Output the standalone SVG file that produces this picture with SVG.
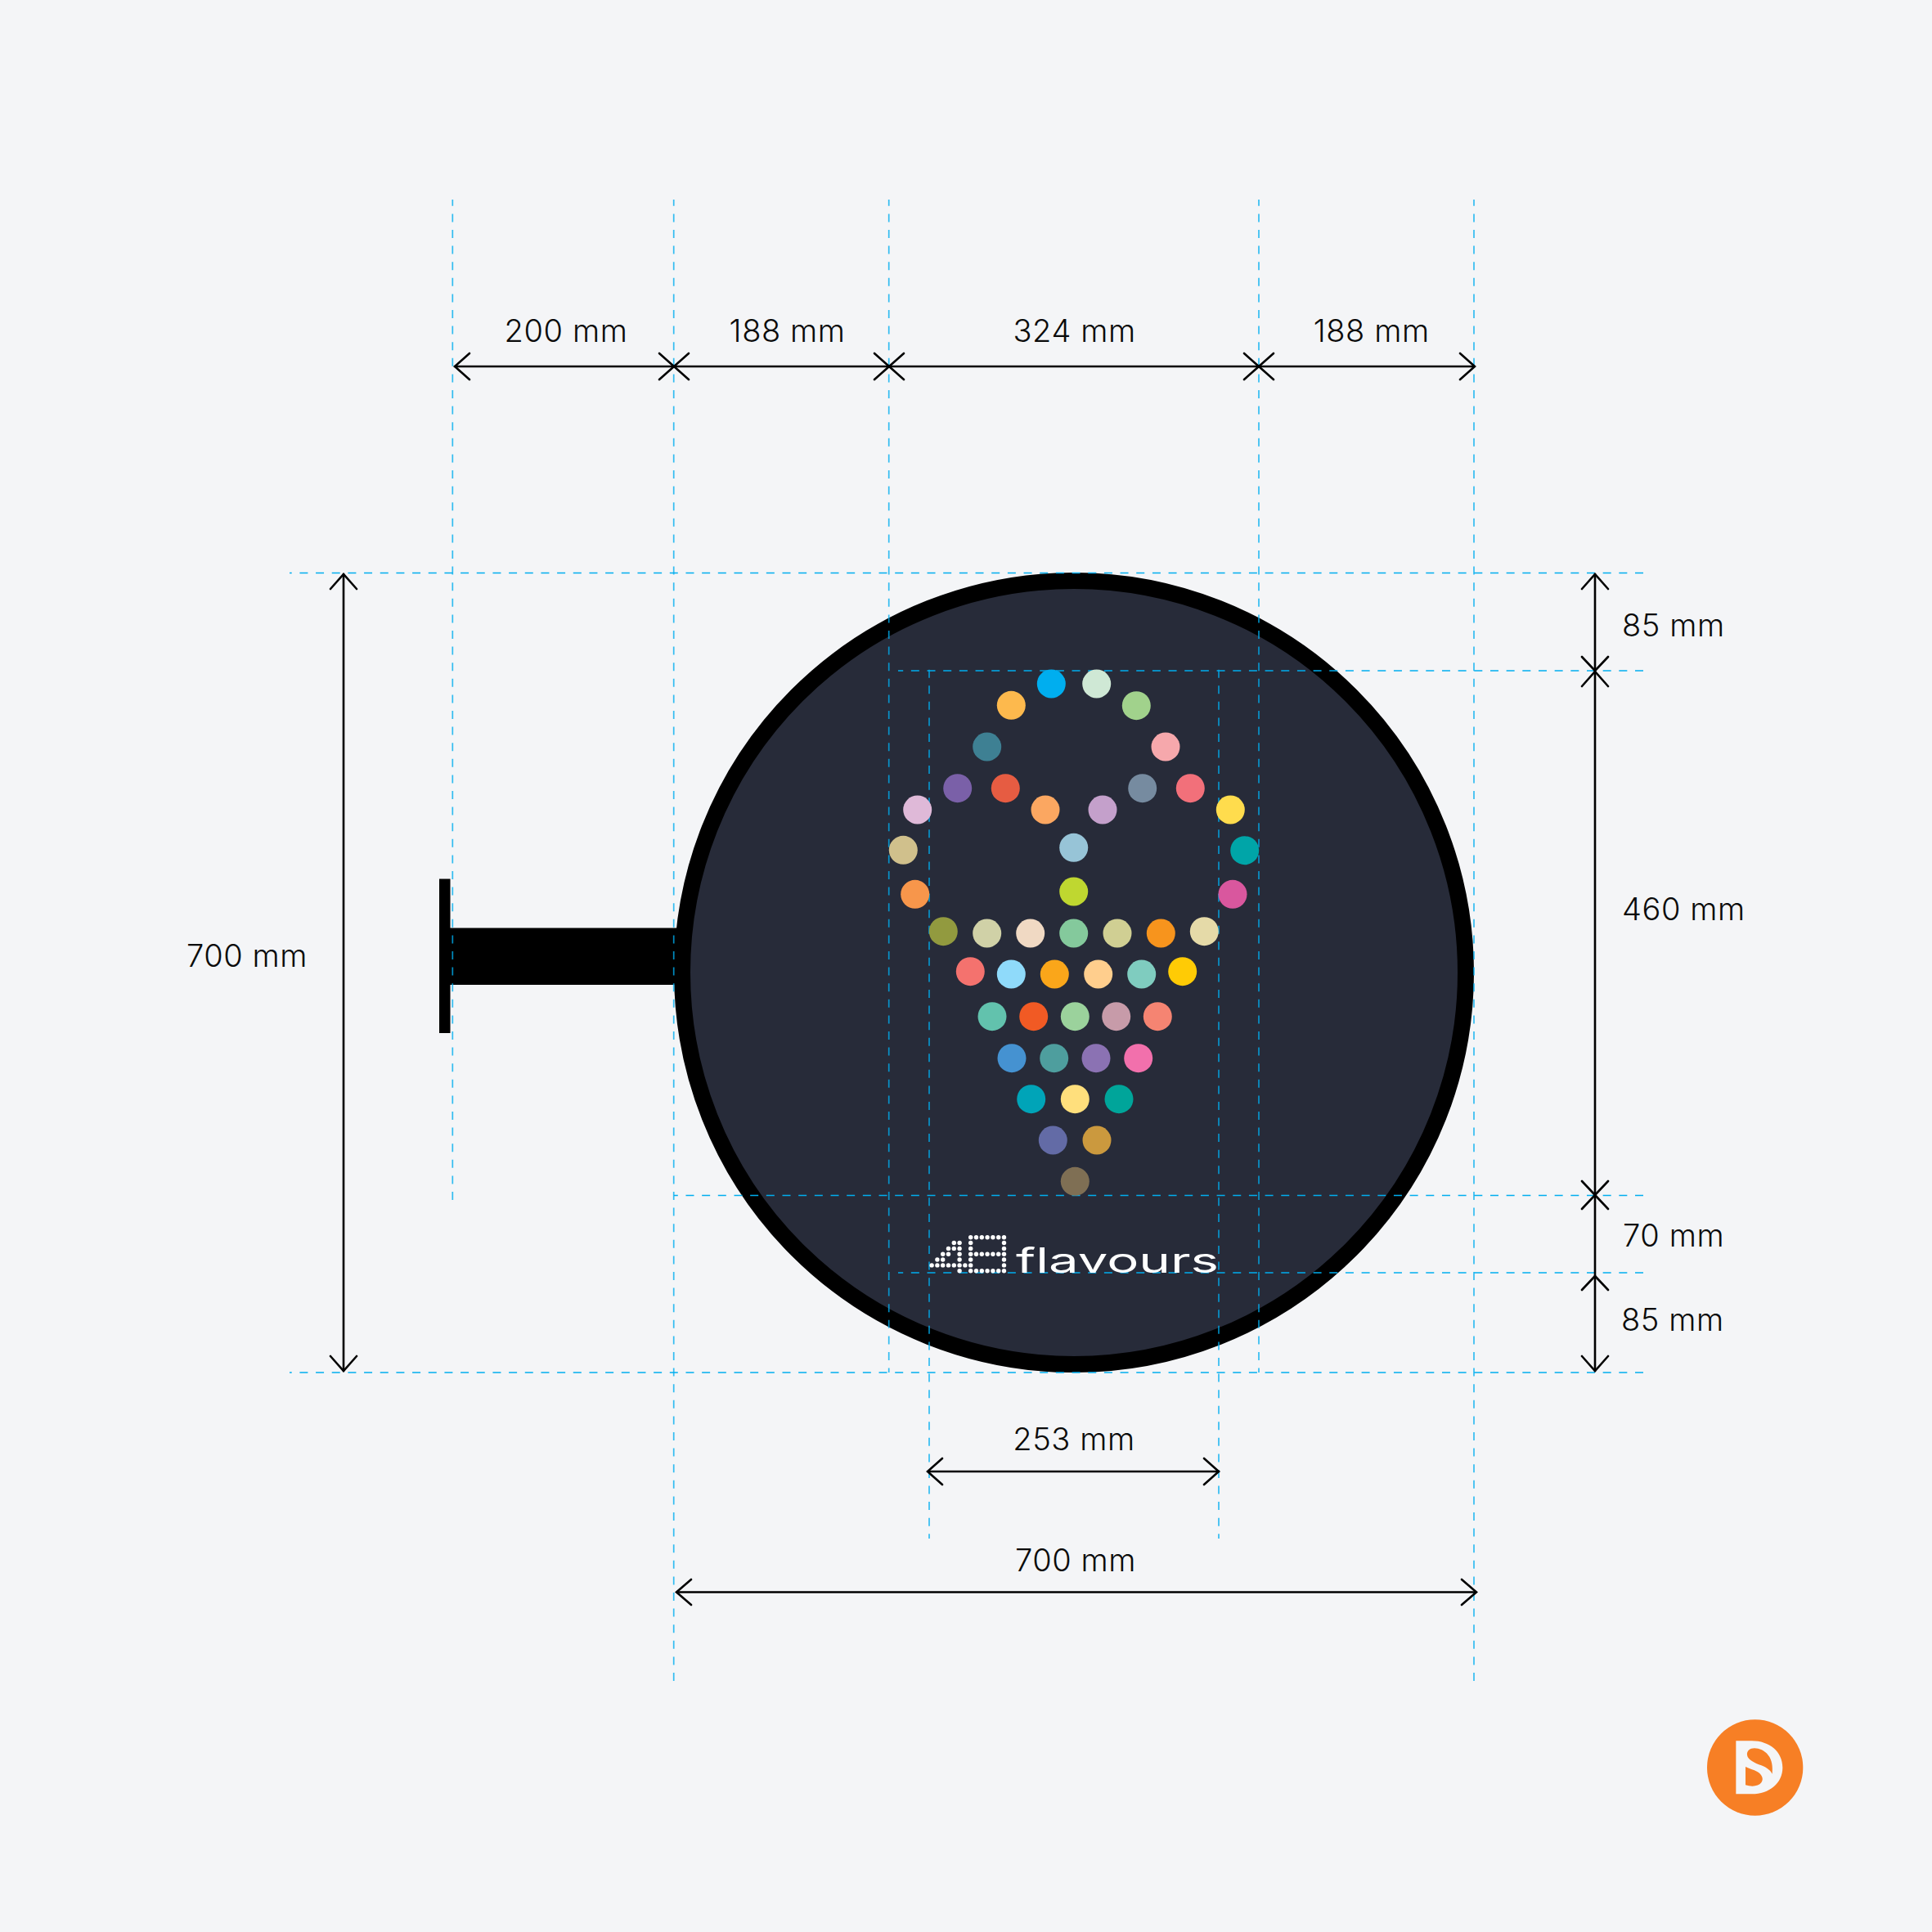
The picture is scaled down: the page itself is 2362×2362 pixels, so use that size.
<svg xmlns="http://www.w3.org/2000/svg" width="2362" height="2362" viewBox="0 0 2362 2362">
<style>
.g{stroke:#00AEEF;stroke-width:1.7;stroke-dasharray:10 9.67;fill:none}
.v{stroke-opacity:.8;stroke-dasharray:10 9.6;stroke-dashoffset:2.2}
.d{stroke:#000;stroke-width:2.6;fill:none;stroke-linecap:round;stroke-linejoin:miter}
.t{font-family:"Inter","Open Sans",sans-serif;font-weight:300;font-size:38px;letter-spacing:.6px;fill:#0b0b0b}
.m{text-anchor:middle}
.w circle{fill:#fff;r:2.7px}
</style>
<rect width="2362" height="2362" fill="#F4F5F7"/>
<g id="bracket" fill="#000">
<rect x="537" y="1074.5" width="13.5" height="188.5"/>
<rect x="550" y="1134.5" width="285" height="69.5"/>
</g>
<g id="sign">
<circle cx="1313" cy="1189" r="479" fill="#272B39" stroke="#000" stroke-width="20"/>
</g>
<g id="guides">
<path class="g" d="M2009 700.5H354"/>
<path class="g" d="M2009 820H1098"/>
<path class="g" d="M2009 1461.5H824"/>
<path class="g" d="M2009 1556H1098"/>
<path class="g" d="M2009 1678H354"/>
<path class="g v" d="M553.3 244V1467"/>
<path class="g v" d="M823.7 244V2055"/>
<path class="g v" d="M1086.7 244V1678"/>
<path class="g v" d="M1539 244V1678"/>
<path class="g v" d="M1802 244V2055"/>
<path class="g v" style="stroke-dasharray:10 9.565;stroke-dashoffset:0" d="M1136 818.7V1881"/>
<path class="g v" style="stroke-dasharray:10 9.565;stroke-dashoffset:0" d="M1490 818.7V1881"/>
</g>
<g id="dots">
<circle cx="1285.3" cy="836" r="17.5" fill="#00AEEF"/>
<circle cx="1340.7" cy="836" r="17.5" fill="#CFE8D5"/>
<circle cx="1236.3" cy="862.3" r="17.5" fill="#FDB94D"/>
<circle cx="1389.3" cy="862.7" r="17.5" fill="#A1D28C"/>
<circle cx="1206.7" cy="913" r="17.5" fill="#3E8093"/>
<circle cx="1425" cy="913" r="17.5" fill="#F6A8AC"/>
<circle cx="1170.7" cy="963.7" r="17.5" fill="#7A60A8"/>
<circle cx="1229.3" cy="963.7" r="17.5" fill="#E65C42"/>
<circle cx="1396.7" cy="963.7" r="17.5" fill="#768BA0"/>
<circle cx="1455.3" cy="963.7" r="17.5" fill="#F2707A"/>
<circle cx="1121.7" cy="990" r="17.5" fill="#DFB9D8"/>
<circle cx="1278" cy="990" r="17.5" fill="#FBA761"/>
<circle cx="1348" cy="990" r="17.5" fill="#C4A0CB"/>
<circle cx="1504.3" cy="990" r="17.5" fill="#FFDC4D"/>
<circle cx="1104.3" cy="1039.3" r="17.5" fill="#D0C08C"/>
<circle cx="1312.7" cy="1036.3" r="17.5" fill="#97C4D7"/>
<circle cx="1521.7" cy="1039.7" r="17.5" fill="#00A5A8"/>
<circle cx="1118.7" cy="1093.3" r="17.5" fill="#F7964B"/>
<circle cx="1312.7" cy="1090" r="17.5" fill="#BFD730"/>
<circle cx="1507" cy="1093.3" r="17.5" fill="#D9579E"/>
<circle cx="1153.3" cy="1138.7" r="17.5" fill="#929A3F"/>
<circle cx="1206.7" cy="1141" r="17.5" fill="#D0D1A7"/>
<circle cx="1259.7" cy="1141" r="17.5" fill="#F0D9C3"/>
<circle cx="1312.7" cy="1141" r="17.5" fill="#84C99C"/>
<circle cx="1366" cy="1141" r="17.5" fill="#D0CF93"/>
<circle cx="1419.3" cy="1141" r="17.5" fill="#F7941D"/>
<circle cx="1472.3" cy="1138.7" r="17.5" fill="#E5DAA8"/>
<circle cx="1186.3" cy="1187.7" r="17.5" fill="#F4726E"/>
<circle cx="1236.3" cy="1191" r="17.5" fill="#8FDAFA"/>
<circle cx="1289.3" cy="1191" r="17.5" fill="#FAA61A"/>
<circle cx="1342.7" cy="1191" r="17.5" fill="#FFCE8D"/>
<circle cx="1395.7" cy="1191" r="17.5" fill="#7FCCBF"/>
<circle cx="1445.7" cy="1187.7" r="17.5" fill="#FFCB05"/>
<circle cx="1213" cy="1242.7" r="17.5" fill="#62C2AD"/>
<circle cx="1263.7" cy="1242.7" r="17.5" fill="#F15A24"/>
<circle cx="1314.3" cy="1242.7" r="17.5" fill="#9BD29C"/>
<circle cx="1364.7" cy="1242.7" r="17.5" fill="#C79BA9"/>
<circle cx="1415.3" cy="1242.7" r="17.5" fill="#F58472"/>
<circle cx="1237" cy="1293.7" r="17.5" fill="#4592D1"/>
<circle cx="1288.7" cy="1293.7" r="17.5" fill="#4E9E9E"/>
<circle cx="1340" cy="1293.7" r="17.5" fill="#8B72B3"/>
<circle cx="1391.7" cy="1293.7" r="17.5" fill="#F270AC"/>
<circle cx="1260.7" cy="1343.7" r="17.5" fill="#00A4B8"/>
<circle cx="1314.3" cy="1343.7" r="17.5" fill="#FFDF7C"/>
<circle cx="1368" cy="1343.7" r="17.5" fill="#00A59A"/>
<circle cx="1287.3" cy="1394" r="17.5" fill="#636BA6"/>
<circle cx="1341" cy="1394" r="17.5" fill="#CB993E"/>
<circle cx="1314.3" cy="1444.3" r="17.5" fill="#7F6F54"/>
</g>
<g id="logo-48" class="w">
<circle cx="1186.7" cy="1512.7"/><circle cx="1193.5" cy="1512.7"/><circle cx="1200.3" cy="1512.7"/><circle cx="1207.1" cy="1512.7"/><circle cx="1213.9" cy="1512.7"/><circle cx="1220.7" cy="1512.7"/><circle cx="1227.5" cy="1512.7"/>
<circle cx="1186.7" cy="1519.5"/><circle cx="1227.5" cy="1519.5"/>
<circle cx="1186.7" cy="1526.4"/><circle cx="1227.5" cy="1526.4"/>
<circle cx="1186.7" cy="1533.2"/><circle cx="1193.5" cy="1533.2"/><circle cx="1200.3" cy="1533.2"/><circle cx="1207.1" cy="1533.2"/><circle cx="1213.9" cy="1533.2"/><circle cx="1220.7" cy="1533.2"/><circle cx="1227.5" cy="1533.2"/>
<circle cx="1186.7" cy="1540"/><circle cx="1227.5" cy="1540"/>
<circle cx="1186.7" cy="1546.9"/><circle cx="1227.5" cy="1546.9"/>
<circle cx="1186.7" cy="1553.7"/><circle cx="1193.5" cy="1553.7"/><circle cx="1200.3" cy="1553.7"/><circle cx="1207.1" cy="1553.7"/><circle cx="1213.9" cy="1553.7"/><circle cx="1220.7" cy="1553.7"/><circle cx="1227.5" cy="1553.7"/>
<circle cx="1166.3" cy="1519.5"/><circle cx="1173.1" cy="1519.5"/>
<circle cx="1159.5" cy="1526.4"/><circle cx="1166.3" cy="1526.4"/><circle cx="1173.1" cy="1526.4"/>
<circle cx="1152.7" cy="1533.2"/><circle cx="1159.5" cy="1533.2"/><circle cx="1173.1" cy="1533.2"/>
<circle cx="1145.9" cy="1540"/><circle cx="1152.7" cy="1540"/><circle cx="1173.1" cy="1540"/>
<circle cx="1139.1" cy="1546.9"/><circle cx="1145.9" cy="1546.9"/><circle cx="1152.7" cy="1546.9"/><circle cx="1159.5" cy="1546.9"/><circle cx="1166.3" cy="1546.9"/><circle cx="1173.1" cy="1546.9"/><circle cx="1179.9" cy="1546.9"/>
<circle cx="1173.1" cy="1553.7"/>
</g>
<g id="logo-word">
<text x="1242" y="1555.7" textLength="248" lengthAdjust="spacingAndGlyphs" style="font-family:'Inter','Liberation Sans',sans-serif;font-weight:400;font-size:42px;fill:#fff">flavours</text>
</g>
<g id="connectors">
<path class="d" d="M556 448H1802"/>
<path class="d" d="M574 432L556 448L574 464M806 432L824 448L842 432M806 464L824 448L842 464M1069 432L1087 448L1105 432M1069 464L1087 448L1105 464M1521 432L1539 448L1557 432M1521 464L1539 448L1557 464M1785 432L1803 448L1785 464"/>
<path class="d" d="M1950 702V1676"/>
<path class="d" d="M1934 720L1950 702L1966 720M1934 803L1950 820L1966 803M1934 839L1950 821L1966 839M1934 1444L1950 1461L1966 1444M1934 1478L1950 1461L1966 1478M1934 1577L1950 1560L1966 1577M1934 1658L1950 1676L1966 1658"/>
<path class="d" d="M420 702V1676"/>
<path class="d" d="M404 720L420 702L436 720M404 1658L420 1676L436 1658"/>
<path class="d" d="M1135 1799H1490"/>
<path class="d" d="M1152 1783L1134 1799L1152 1815M1472 1783L1490 1799L1472 1815"/>
<path class="d" d="M828 1946.5H1804"/>
<path class="d" d="M845 1931L827 1946.5L845 1962M1787 1931L1805 1946.5L1787 1962"/>
</g>
<g id="labels">
<text class="t m" x="692" y="418">200 mm</text>
<text class="t m" x="962.6" y="418">188 mm</text>
<text class="t m" x="1313.6" y="418">324 mm</text>
<text class="t m" x="1676.7" y="418">188 mm</text>
<text class="t" x="1983" y="777.7">85 mm</text>
<text class="t" x="1983" y="1125">460 mm</text>
<text class="t" x="1984" y="1524">70 mm</text>
<text class="t" x="1982" y="1627">85 mm</text>
<text class="t m" x="302" y="1182">700 mm</text>
<text class="t m" x="1313" y="1772.7">253 mm</text>
<text class="t m" x="1315" y="1921">700 mm</text>
</g>
<g id="brand" transform="translate(2060 2080) scale(.33333)">
<circle cx="257" cy="243" r="176" fill="#F77F25"/>
<path fill="#F4F5F7" fill-rule="evenodd" d="M187 145H245C310 145 358 185 358 243C358 300 310 340 245 340H187ZM320 266C322 240 320 215 305 197C292 180 272 172 255 172C238 172 226 182 228 197C231 215 255 225 280 235C300 243 312 252 320 266ZM222 240V307C245 314 270 312 280 298C290 284 282 268 265 258C252 251 235 246 222 240Z"/>
</g>
</svg>
